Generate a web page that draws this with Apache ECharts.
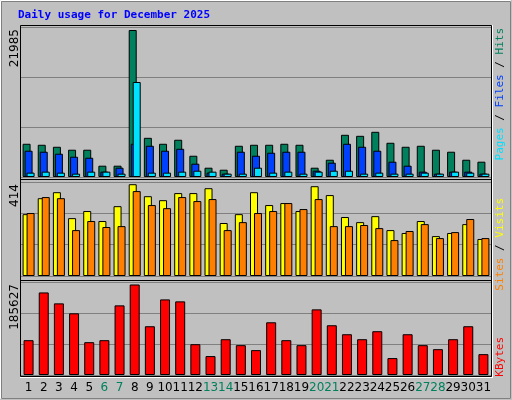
<!DOCTYPE html><html><head><meta charset="utf-8">
<script src="https://cdn.jsdelivr.net/npm/echarts@6/dist/echarts.min.js"></script>
<style>html,body{margin:0;padding:0;background:#c0c0c0}#c{width:512px;height:400px}</style></head><body><div id="c"></div>
<script>
const days=['1','2','3','4','5','6','7','8','9','10','11','12','13','14','15','16','17','18','19','20','21','22','23','24','25','26','27','28','29','30','31'];
const weekend=['6','7','13','14','20','21','27','28'];
const hits=[4970,4820,4520,4080,4080,1690,1690,21985,5860,4970,5570,3180,1390,1090,4670,4820,4820,4970,4820,1390,2580,6310,6160,6760,5120,4520,4670,4080,3780,2580,2290];
const files=[3930,3780,3480,3030,2880,800,1390,4970,4670,3930,4220,1990,650,500,3780,3180,3630,3780,3780,940,2140,4970,4520,3930,2290,1690,800,500,800,800,500];
const pages=[650,800,650,500,800,800,500,14210,650,650,800,940,800,500,500,1390,650,800,500,800,940,940,500,650,500,500,650,500,800,650,500];
const visits=[279,351,378,261,293,248,315,414,360,342,374,374,396,239,279,378,320,329,293,405,365,266,243,270,207,194,248,180,194,234,167];
const sites=[284,356,351,207,248,221,225,383,320,306,356,338,347,207,243,284,293,329,302,347,225,225,230,216,162,203,234,171,198,257,171];
const kbytes=[71400,169300,146900,126500,67300,71400,142800,185627,100000,155000,151000,63200,38800,73400,61200,51000,108100,71400,61200,134600,102000,83600,73400,89800,34700,83600,61200,53000,73400,100000,42800];
const tickMax={hits:21985,visits:414,kbytes:185627};

const L=21,W=470;
const grids=[{left:L,width:W,top:27,height:150},{left:L,width:W,top:182,height:94},{left:L,width:W,top:282,height:93}];
const ymax=[22434,424,190727];
const xAxis=grids.map((g,i)=>({gridIndex:i,type:'category',data:days,axisLine:{show:false},axisTick:{show:false},
 axisLabel:{show:i===2,interval:0,margin:7,fontFamily:'DejaVu Sans',fontSize:12,color:'#000',
  formatter:v=>weekend.includes(v)?'{w|'+v+'}':v,rich:{w:{color:'#00805c',fontFamily:'DejaVu Sans',fontSize:12}}}}));
const yAxis=grids.map((g,i)=>({gridIndex:i,type:'value',min:0,max:ymax[i],interval:ymax[i]/3,axisLabel:{show:false},axisLine:{show:false},axisTick:{show:false},splitLine:{show:true,lineStyle:{color:'#808080',width:1}}}));
const bs=(name,data,ax,color,w,gap)=>({name,type:'bar',xAxisIndex:ax,yAxisIndex:ax,data,barWidth:w,barGap:gap,itemStyle:{color,borderColor:'#000',borderWidth:1},animation:false,silent:true});
const series=[bs('Hits',hits,0,'#00805c',8,'-75%'),bs('Files',files,0,'#0040ff',8,'-75%'),bs('Pages',pages,0,'#00e0ff',8,'-75%'),
 bs('Visits',visits,1,'#ffff00',8,'-50%'),bs('Sites',sites,1,'#ff8000',8,'-50%'),bs('KBytes',kbytes,2,'#ff0000',10,'0%')];
const mono='DejaVu Sans Mono';
const f='11px '+mono;
const rt=(x,y,text,rich)=>({type:'text',x,y,rotation:Math.PI/2,style:{text,rich,font:f,fill:'#000',align:'right',verticalAlign:'middle'}});
const graphic=[
 {type:'rect',shape:{x:0.5,y:0.5,width:510,height:398},style:{fill:'none',stroke:'#fff',lineWidth:1}},
 {type:'rect',shape:{x:1.5,y:1.5,width:509,height:397},style:{fill:'none',stroke:'#808080',lineWidth:1}},
 {type:'text',x:18,y:10,style:{text:'Daily usage for December 2025',font:'bold 11px '+mono,fill:'#0000ff'}},
 {type:'rect',shape:{x:20.5,y:25.5,width:471,height:351},style:{fill:'none',stroke:'#000',lineWidth:1}},
 {type:'line',shape:{x1:20,y1:179.5,x2:492,y2:179.5},style:{stroke:'#000',lineWidth:1}},
 {type:'line',shape:{x1:20,y1:280.5,x2:492,y2:280.5},style:{stroke:'#000',lineWidth:1}},
 {type:'line',shape:{x1:492.5,y1:25,x2:492.5,y2:378},style:{stroke:'#fff',lineWidth:1}},
 {type:'line',shape:{x1:20,y1:377.5,x2:493,y2:377.5},style:{stroke:'#fff',lineWidth:1}},
 {type:'text',x:15,y:29,rotation:Math.PI/2,style:{text:String(tickMax.hits),font:'12px DejaVu Sans',fill:'#000',align:'right',verticalAlign:'middle'}},
 {type:'text',x:15,y:184,rotation:Math.PI/2,style:{text:String(tickMax.visits),font:'12px DejaVu Sans',fill:'#000',align:'right',verticalAlign:'middle'}},
 {type:'text',x:15,y:284,rotation:Math.PI/2,style:{text:String(tickMax.kbytes),font:'12px DejaVu Sans',fill:'#000',align:'right',verticalAlign:'middle'}},
 rt(500,28,'{p|Pages}{s| / }{f|Files}{s| / }{h|Hits}',{h:{fill:'#00805c',font:f},s:{fill:'#000',font:f},f:{fill:'#0040ff',font:f},p:{fill:'#00e0ff',font:f}}),
 rt(500,198,'{t|Sites}{s| / }{v|Visits}',{v:{fill:'#ffff00',font:f},s:{fill:'#000',font:f},t:{fill:'#ff8000',font:f}}),
 rt(500,337,'{k|KBytes}',{k:{fill:'#ff0000',font:f}})
];
const ch=echarts.init(document.getElementById('c'),null,{renderer:'canvas'});
ch.setOption({backgroundColor:'#c0c0c0',animation:false,grid:grids,xAxis,yAxis,series,graphic});
</script></body></html>
